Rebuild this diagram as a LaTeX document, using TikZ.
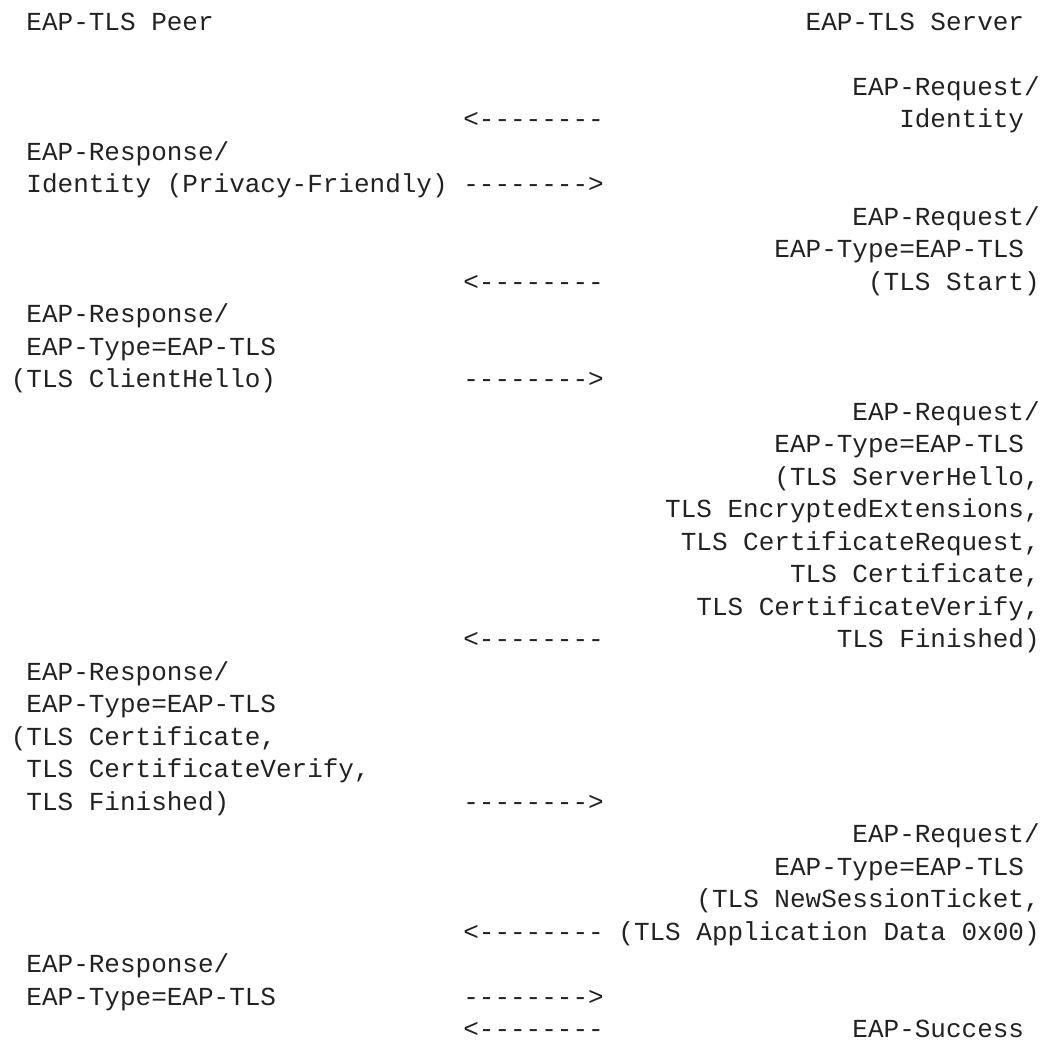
\documentclass[tikz,border=0pt]{standalone}
\usepackage{fontspec}
\setmonofont{Liberation Mono}
\usepackage{tikz}
\usepackage{xcolor}
\definecolor{ink}{HTML}{222222}
\tikzstyle{peer msg}=[
        anchor = base west,
        inner sep = 0pt,
        text = ink,
        font = \ttfamily\fontsize{13pt}{16pt}\selectfont
    ]
\tikzstyle{server msg}=[
    anchor = base east,
    inner sep = 0pt,
    text = ink,
    font = \ttfamily\fontsize{13pt}{16pt}\selectfont
]
\tikzstyle{wire}=[peer msg]

\begin{document}
\begin{tikzpicture}[x=7.8pt, y=-16.25pt]
        \useasboundingbox (-0.673,-0.923) rectangle (66.25,31.108);

        \node[peer msg] (peer) at (1,0) {EAP-TLS Peer};
        \node[server msg] (server) at (65,0) {EAP-TLS Server};

        \node[server msg] (s1) at (66,2) {EAP-Request/};
        \node[wire] (w1) at (29,3) {<--------};
        \node[server msg] (s2) at (65,3) {Identity};
        \node[peer msg] (p1) at (1,4) {EAP-Response/};
        \node[peer msg] (p2) at (1,5) {Identity (Privacy-Friendly)};
        \node[wire] (w2) at (29,5) {-------->};

        \node[server msg] (s3) at (66,6) {EAP-Request/};
        \node[server msg] (s4) at (65,7) {EAP-Type=EAP-TLS};
        \node[wire] (w3) at (29,8) {<--------};
        \node[server msg] (s5) at (66,8) {(TLS Start)};
        \node[peer msg] (p3) at (1,9) {EAP-Response/};
        \node[peer msg] (p4) at (1,10) {EAP-Type=EAP-TLS};
        \node[peer msg] (p5) at (0,11) {(TLS ClientHello)};
        \node[wire] (w4) at (29,11) {-------->};

        \node[server msg] (s6) at (66,12) {EAP-Request/};
        \node[server msg] (s7) at (65,13) {EAP-Type=EAP-TLS};
        \node[server msg] (s8) at (66,14) {(TLS ServerHello,};
        \node[server msg] (s9) at (66,15) {TLS EncryptedExtensions,};
        \node[server msg] (s10) at (66,16) {TLS CertificateRequest,};
        \node[server msg] (s11) at (66,17) {TLS Certificate,};
        \node[server msg] (s12) at (66,18) {TLS CertificateVerify,};
        \node[wire] (w5) at (29,19) {<--------};
        \node[server msg] (s13) at (66,19) {TLS Finished)};
        \node[peer msg] (p6) at (1,20) {EAP-Response/};
        \node[peer msg] (p7) at (1,21) {EAP-Type=EAP-TLS};
        \node[peer msg] (p8) at (0,22) {(TLS Certificate,};
        \node[peer msg] (p9) at (1,23) {TLS CertificateVerify,};
        \node[peer msg] (p10) at (1,24) {TLS Finished)};
        \node[wire] (w6) at (29,24) {-------->};

        \node[server msg] (s14) at (66,25) {EAP-Request/};
        \node[server msg] (s15) at (65,26) {EAP-Type=EAP-TLS};
        \node[server msg] (s16) at (66,27) {(TLS NewSessionTicket,};
        \node[wire] (w7) at (29,28) {<--------};
        \node[server msg] (s17) at (66,28) {(TLS Application Data 0x00)};
        \node[peer msg] (p11) at (1,29) {EAP-Response/};
        \node[peer msg] (p12) at (1,30) {EAP-Type=EAP-TLS};
        \node[wire] (w8) at (29,30) {-------->};
        \node[wire] (w9) at (29,31) {<--------};
        \node[server msg] (s18) at (65,31) {EAP-Success};

    \end{tikzpicture}
\end{document}
